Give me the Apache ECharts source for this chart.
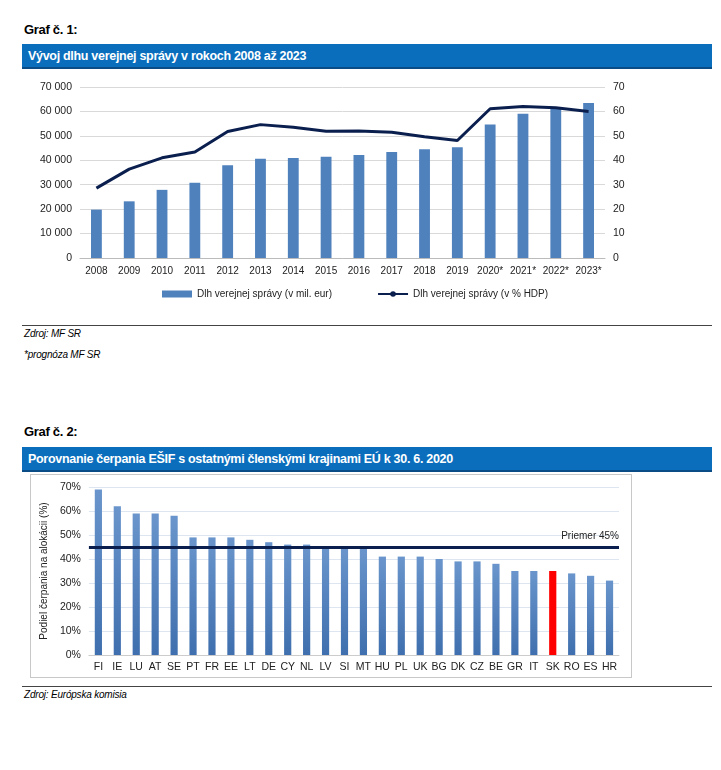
<!DOCTYPE html><html><head><meta charset="utf-8">
<script src="https://cdn.jsdelivr.net/npm/echarts@6/dist/echarts.min.js"></script>
<style>
body{margin:0;width:721px;height:770px;background:#fff;font-family:"Liberation Sans",Arial,sans-serif;position:relative;overflow:hidden}
.t{position:absolute;font-weight:bold;font-size:13px;color:#000;letter-spacing:-0.3px}
.bar{position:absolute;left:22px;width:690px;height:25px;background:#0a6ebd;color:#fff;font-weight:bold;font-size:12.5px;line-height:25px;padding-left:6px;box-sizing:border-box;border-bottom:2px solid #0a4c86;letter-spacing:-0.3px}
.hr{position:absolute;left:22px;width:690px;height:1px;background:#444}
.n{position:absolute;left:24px;font-size:10px;font-style:italic;color:#000;letter-spacing:-0.2px}
</style></head><body>
<div class="t" style="left:24px;top:22px">Graf č. 1:</div>
<div class="bar" style="top:44px">Vývoj dlhu verejnej správy v rokoch 2008 až 2023</div>
<div id="c1" style="position:absolute;left:22px;top:72px;width:690px;height:248px"></div>
<div class="hr" style="top:325px"></div>
<div class="n" style="top:328px">Zdroj: MF SR</div>
<div class="n" style="top:349px">*prognóza MF SR</div>
<div class="t" style="left:24px;top:424px">Graf č. 2:</div>
<div class="bar" style="top:447px">Porovnanie čerpania EŠIF s ostatnými členskými krajinami EÚ k 30. 6. 2020</div>
<div id="c2" style="position:absolute;left:30px;top:474px;width:602px;height:204px;border:1px solid #c8c8c8;box-sizing:border-box"></div>
<div class="hr" style="top:686px"></div>
<div class="n" style="top:689px">Zdroj: Európska komisia</div>
<script>
var years=["2008","2009","2010","2011","2012","2013","2014","2015","2016","2017","2018","2019","2020*","2021*","2022*","2023*"];
var debtEur=[19800,23200,27900,30800,38000,40600,40900,41400,42200,43400,44500,45300,54600,59000,61500,63500];
var debtGdp=[28.6,36.4,41.0,43.4,51.8,54.6,53.5,51.9,52.0,51.5,49.6,48.1,61.1,62.0,61.5,60.0];
var countries=["FI","IE","LU","AT","SE","PT","FR","EE","LT","DE","CY","NL","LV","SI","MT","HU","PL","UK","BG","DK","CZ","BE","GR","IT","SK","RO","ES","HR"];
var drawdown=[69,62,59,59,58,49,49,49,48,47,46,46,45,45,45,41,41,41,40,39,39,38,35,35,35,34,33,31];
var average=45;
var F='"Liberation Sans",Arial,sans-serif';
var lab={color:'#222',fontSize:10.5,fontFamily:F};
var c1=echarts.init(document.getElementById('c1'));
c1.setOption({animation:false,
grid:{left:58,right:107,top:15,bottom:62},
legend:{bottom:16,left:135,itemGap:45,itemWidth:30,itemHeight:7,textStyle:{fontSize:10,fontFamily:F,color:'#222'},
 data:[{name:'Dlh verejnej správy (v mil. eur)',icon:'rect'},{name:'Dlh verejnej správy (v % HDP)'}]},
xAxis:{type:'category',data:years,axisTick:{show:false},axisLine:{lineStyle:{color:'#bbb'}},axisLabel:Object.assign({margin:8,interval:0},lab,{fontSize:10})},
yAxis:[{type:'value',min:0,max:70000,interval:10000,axisLabel:Object.assign({formatter:function(v){return v===0?'0':(v/1000)+' 000';}},lab),splitLine:{lineStyle:{color:'#d9d9d9'}}},
{type:'value',min:0,max:70,interval:10,axisLabel:lab,splitLine:{show:false}}],
series:[{name:'Dlh verejnej správy (v mil. eur)',type:'bar',data:debtEur,barWidth:'33%',itemStyle:{color:'#4f81bd'}},
{name:'Dlh verejnej správy (v % HDP)',type:'line',yAxisIndex:1,data:debtGdp,symbol:'none',lineStyle:{width:3,color:'#0b1f4f'},itemStyle:{color:'#0b1f4f'}}]});
var c2=echarts.init(document.getElementById('c2'));
c2.setOption({animation:false,
grid:{left:44,right:12,top:12,bottom:22},
xAxis:{type:'category',data:countries,axisTick:{show:false},axisLine:{lineStyle:{color:'#ccc'}},axisLabel:Object.assign({margin:7,interval:0},lab)},
yAxis:{type:'value',min:0,max:70,interval:10,name:'Podiel čerpania na alokácii (%)',nameLocation:'middle',nameGap:30,nameTextStyle:{fontSize:10,fontFamily:F,color:'#222'},
 axisLabel:Object.assign({formatter:'{value}%'},lab),splitLine:{lineStyle:{color:'#dde6f0'}}},
series:[{type:'bar',barWidth:'38%',data:drawdown.map(function(v,i){return countries[i]==='SK'?{value:v,itemStyle:{color:'#ff0000'}}:v;}),
 itemStyle:{color:new echarts.graphic.LinearGradient(0,0,0,1,[{offset:0,color:'#6a95cc'},{offset:1,color:'#3f6fae'}])},
 markLine:{symbol:'none',silent:true,data:[{yAxis:average}],lineStyle:{color:'#0b1f4f',width:3,type:'solid'},
  label:{position:'insideEndTop',formatter:'Priemer 45%',color:'#222',fontSize:10,fontFamily:F,distance:[0,6]}}}]});
</script></body></html>
